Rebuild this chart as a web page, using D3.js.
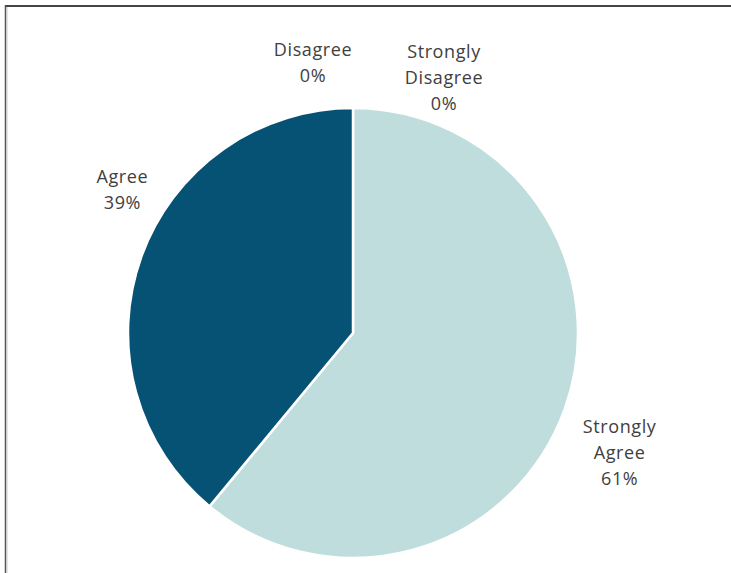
<!DOCTYPE html>
<html>
<head>
<meta charset="utf-8">
<script src="https://cdn.jsdelivr.net/npm/d3@7"></script>
<style>
  body { margin: 0; background: #fff; }
  text { font-family: "Open Sans", "Noto Sans", sans-serif; font-size: 18px; letter-spacing: 0.6px; fill: #404040; }
</style>
</head>
<body>
<script>
const categories = ["Strongly Agree", "Agree", "Disagree", "Strongly Disagree"];
const values = [61, 39, 0, 0];
const labelLines = [["Strongly", "Agree"], ["Agree"], ["Disagree"], ["Strongly", "Disagree"]];
const colors = ["#bfdddd", "#065274", "#7fa9bd", "#a6c9cf"];

const width = 731, height = 573;
const cx = 353, cy = 333, radius = 225;

const svg = d3.select("body").append("svg")
  .attr("width", width)
  .attr("height", height);

// frame (top and left edges only, like the source image)
svg.append("line").attr("x1", 5).attr("y1", 6).attr("x2", 731).attr("y2", 6)
  .attr("stroke", "#444").attr("stroke-width", 2);
svg.append("line").attr("x1", 5.5).attr("y1", 5).attr("x2", 5.5).attr("y2", 573)
  .attr("stroke", "#555").attr("stroke-width", 1.5);
svg.append("line").attr("x1", 7).attr("y1", 7).attr("x2", 7).attr("y2", 573)
  .attr("stroke", "#ccc").attr("stroke-width", 1);

const pie = d3.pie().sort(null).value(d => d)
  .startAngle(0).endAngle(2 * Math.PI);
const arcs = pie(values);

const arc = d3.arc().innerRadius(0).outerRadius(radius);

const g = svg.append("g").attr("transform", `translate(${cx},${cy})`);

g.selectAll("path")
  .data(arcs.filter(d => d.value > 0))
  .join("path")
  .attr("d", arc)
  .attr("fill", d => colors[d.index])
  .attr("stroke", "#fff")
  .attr("stroke-width", 2.5)
  .attr("stroke-linejoin", "round");

// label placement: polar position from slice angle, then a nudge
const labelR = radius * 1.25;
const nudges = [[2, 25], [34, -48], [-40, 11], [91, 26]];
const lineH = 26;

g.selectAll("text.lbl")
  .data(arcs)
  .join("text")
  .attr("class", "lbl")
  .attr("text-anchor", "middle")
  .each(function(d, i) {
    const a = (d.startAngle + d.endAngle) / 2;
    const x = Math.sin(a) * labelR + nudges[i][0];
    const y = -Math.cos(a) * labelR + nudges[i][1];
    const lines = labelLines[i].concat([d3.format(".0%")(d.value / 100)]);
    const y0 = y - (lines.length - 1) / 2 * lineH + 6;
    const t = d3.select(this);
    lines.forEach((s, k) => {
      t.append("tspan").attr("x", x).attr("y", y0 + k * lineH).text(s);
    });
  });
</script>
</body>
</html>
